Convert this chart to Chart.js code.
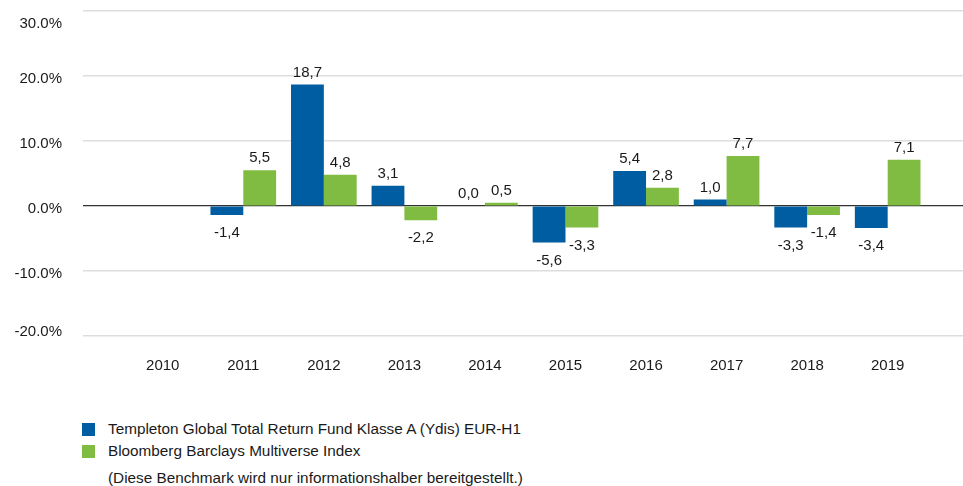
<!DOCTYPE html>
<html>
<head>
<meta charset="utf-8">
<script src="https://cdn.jsdelivr.net/npm/chart.js@4/dist/chart.umd.min.js"></script>
<style>
    body { margin: 0; background: #fff; font-family: "Liberation Sans", Arial, sans-serif; }
    #wrap { position: relative; width: 963px; height: 486px; overflow: hidden; }
    #chart-box { position: absolute; left: 0; top: 0; width: 963px; height: 401px; }
    .legend-item { position: absolute; left: 82px; font-size: 15.3px; color: #1a1a1a; line-height: 18px; }
    .legend-item .swatch { position: absolute; left: 0; top: 3px; width: 13px; height: 13px; }
    .legend-item .text { position: absolute; left: 26px; top: 0; white-space: nowrap; }
    #note { position: absolute; left: 108px; top: 469px; font-size: 15.3px; color: #1a1a1a; line-height: 18px; white-space: nowrap; }
</style>
</head>
<body>
<div id="wrap">
    <div id="chart-box"><canvas id="perf-chart"></canvas></div>
    <div id="legend"></div>
    <div id="note">(Diese Benchmark wird nur informationshalber bereitgestellt.)</div>
</div>
<script>
const years = [2010, 2011, 2012, 2013, 2014, 2015, 2016, 2017, 2018, 2019];
const fundLabel = 'Templeton Global Total Return Fund Klasse A (Ydis) EUR-H1';
const indexLabel = 'Bloomberg Barclays Multiverse Index';
const fundValues = [null, -1.4, 18.7, 3.1, 0.0, -5.6, 5.4, 1.0, -3.3, -3.4];
const indexValues = [null, 5.5, 4.8, -2.2, 0.5, -3.3, 2.8, 7.7, -1.4, 7.1];
const yTicks = [-20, -10, 0, 10, 20, 30];

const fundColor = '#005da1';
const indexColor = '#80bc41';
const fontFamily = '"Liberation Sans", Arial, sans-serif';
const textColor = '#1a1a1a';

// Value labels above / below each bar
const barLabels = {
    id: 'barLabels',
    afterDatasetsDraw(chart) {
        const ctx = chart.ctx;
        ctx.save();
        ctx.font = '15px ' + fontFamily;
        ctx.fillStyle = textColor;
        ctx.textAlign = 'center';
        ctx.textBaseline = 'middle';
        chart.data.datasets.forEach((ds, di) => {
            const meta = chart.getDatasetMeta(di);
            meta.data.forEach((bar, i) => {
                const v = ds.data[i].y;
                if (v === null) return;
                const txt = v.toFixed(1).replace('.', ',');
                const y = v >= 0 ? bar.y - 12 : bar.y + 18;
                ctx.fillText(txt, bar.x, y);
            });
        });
        ctx.restore();
    }
};

// Y tick labels sit a bit below their line and are kept inside the plot area
const yLabels = {
    id: 'yLabels',
    afterDraw(chart) {
        const scale = chart.scales.y;
        const area = chart.chartArea;
        const ctx = chart.ctx;
        ctx.save();
        ctx.font = '15px ' + fontFamily;
        ctx.fillStyle = textColor;
        ctx.textAlign = 'right';
        ctx.textBaseline = 'middle';
        yTicks.forEach(v => {
            let y = scale.getPixelForValue(v) + 3;
            y = Math.max(area.top + 13, Math.min(area.bottom - 4, y));
            ctx.fillText(v.toFixed(1) + '%', scale.right - 21, y);
        });
        ctx.restore();
    }
};

const ctx = document.getElementById('perf-chart').getContext('2d');
new Chart(ctx, {
    type: 'bar',
    data: {
        datasets: [
            {
                label: fundLabel,
                data: years.map((y, i) => ({ x: y, y: fundValues[i] })),
                backgroundColor: fundColor
            },
            {
                label: indexLabel,
                data: years.map((y, i) => ({ x: y, y: indexValues[i] })),
                backgroundColor: indexColor
            }
        ]
    },
    options: {
        responsive: true,
        maintainAspectRatio: false,
        animation: false,
        categoryPercentage: 0.815,
        barPercentage: 1.0,
        layout: { padding: { top: 11, left: 0, right: 0, bottom: 0 } },
        plugins: {
            legend: { display: false },
            tooltip: { enabled: false }
        },
        scales: {
            x: {
                type: 'linear',
                offset: false,
                min: 2009.01,
                max: 2019.935,
                grid: { display: false },
                border: { display: false },
                afterBuildTicks: (scale) => {
                    scale.ticks = years.map(v => ({ value: v }));
                },
                afterFit: (scale) => { scale.height = 65; },
                ticks: {
                    autoSkip: false,
                    maxRotation: 0,
                    padding: 13,
                    color: textColor,
                    font: { family: fontFamily, size: 15 },
                    callback: (v) => String(v)
                }
            },
            y: {
                min: -20,
                max: 30,
                afterBuildTicks: (scale) => {
                    scale.ticks = yTicks.map(v => ({ value: v }));
                },
                afterFit: (scale) => { scale.width = 83; },
                border: { display: false },
                grid: {
                    drawTicks: false,
                    color: (c) => c.tick && c.tick.value === 0 ? '#333333' : '#dddddd',
                    lineWidth: (c) => c.tick && c.tick.value === 0 ? 1.2 : 1.5
                },
                ticks: { display: false }
            }
        }
    },
    plugins: [barLabels, yLabels]
});

// HTML legend built from the dataset labels
const legend = document.getElementById('legend');
[[fundLabel, fundColor, 420], [indexLabel, indexColor, 442]].forEach(([label, color, top]) => {
    const item = document.createElement('div');
    item.className = 'legend-item';
    item.style.top = top + 'px';
    item.innerHTML = `<span class="swatch" style="background:${color}"></span><span class="text">${label}</span>`;
    legend.appendChild(item);
});
</script>
</body>
</html>
